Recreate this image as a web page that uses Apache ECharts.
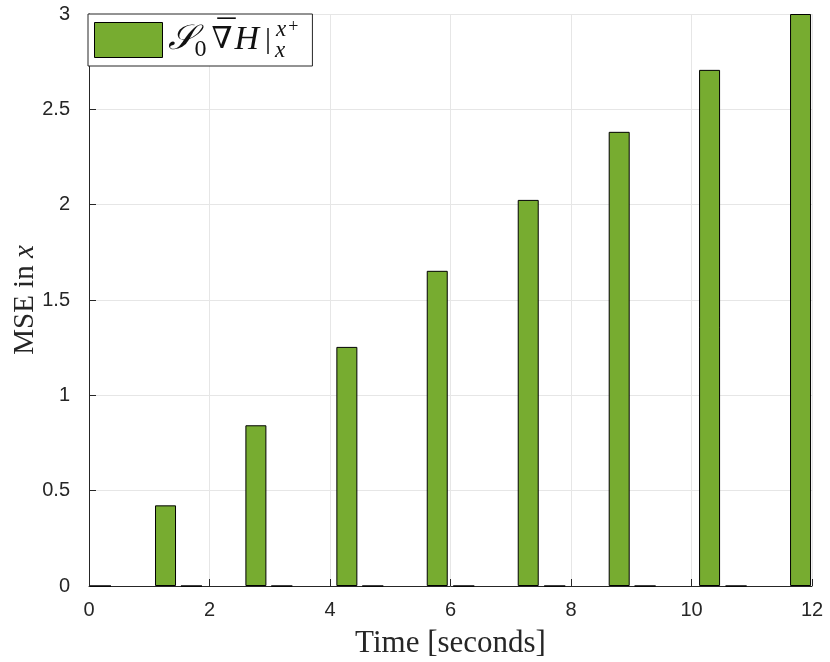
<!DOCTYPE html>
<html>
<head>
<meta charset="utf-8">
<script src="https://cdn.jsdelivr.net/npm/echarts@6/dist/echarts.min.js"></script>
<style>
  html, body { margin: 0; padding: 0; background: #fff; }
  #chart { width: 830px; height: 662px; }
</style>
</head>
<body>
<div id="chart"></div>
<script>
// Sample times (seconds) where the error is evaluated, and the MSE there
const timeCenters = [1.27, 2.77, 4.28, 5.78, 7.29, 8.80, 10.30, 11.81];
const mseValues   = [0.423, 0.843, 1.254, 1.653, 2.025, 2.382, 2.707, 3.0];
// Intermediate sample times where the error is zero
const zeroCenters = [0.19, 1.70, 3.20, 4.71, 6.22, 7.73, 9.23, 10.74];
const zeroValues  = [0, 0, 0, 0, 0, 0, 0, 0];
const xTicks = { min: 0, max: 12, interval: 2 };
const yTicks = { min: 0, max: 3, interval: 0.5 };

const barData = [];
zeroCenters.forEach((t, i) => barData.push([t, zeroValues[i]]));
timeCenters.forEach((t, i) => barData.push([t, mseValues[i]]));
barData.sort((a, b) => a[0] - b[0]);

const axisColor = '#262626';
const gridColor = '#e6e6e6';
const sans = 'Liberation Sans, Arial, Helvetica, sans-serif';
const serif = 'Liberation Serif, Times New Roman, serif';
const mathSerif = 'DejaVu Serif, Liberation Serif, serif';

const chart = echarts.init(document.getElementById('chart'), null, { renderer: 'canvas' });
chart.setOption({
  animation: false,
  backgroundColor: '#ffffff',
  grid: { left: 89, right: 18, top: 14, bottom: 76, containLabel: false, outerBoundsMode: 'none' },
  xAxis: {
    type: 'value',
    min: xTicks.min, max: xTicks.max, interval: xTicks.interval,
    name: 'Time [seconds]',
    nameLocation: 'middle',
    nameGap: 42,
    nameTextStyle: { fontFamily: serif, fontSize: 31, color: axisColor },
    axisLine: { show: true, onZero: false, lineStyle: { color: axisColor, width: 1 } },
    axisTick: { show: true, inside: true, length: 7, lineStyle: { color: axisColor } },
    axisLabel: { fontFamily: sans, fontSize: 20, color: axisColor, margin: 14 },
    splitLine: { show: true, lineStyle: { color: gridColor, width: 1 } }
  },
  yAxis: {
    type: 'value',
    min: yTicks.min, max: yTicks.max, interval: yTicks.interval,
    name: 'MSE in {i|x}',
    nameLocation: 'middle',
    nameGap: 49,
    nameMoveOverlap: false,
    nameTextStyle: {
      fontFamily: serif, fontSize: 29, color: axisColor,
      rich: { i: { fontFamily: serif, fontStyle: 'italic', fontSize: 29, color: axisColor } }
    },
    axisLine: { show: true, onZero: false, lineStyle: { color: axisColor, width: 1 } },
    axisTick: { show: true, inside: true, length: 7, lineStyle: { color: axisColor } },
    axisLabel: { fontFamily: sans, fontSize: 20, color: axisColor, margin: 19 },
    splitLine: { show: true, lineStyle: { color: gridColor, width: 1 } }
  },
  legend: {
    left: 88, top: 14,
    orient: 'horizontal',
    backgroundColor: '#ffffff',
    borderColor: axisColor,
    borderWidth: 1,
    borderRadius: 0,
    padding: [4, 12, 4, 6],
    itemWidth: 68,
    itemHeight: 35,
    itemGap: 6,
    icon: 'rect',
    itemStyle: { borderColor: '#000', borderWidth: 1 },
    data: ['S0'],
    // S_0 \bar{\nabla} H |_x^{x^+}
    formatter: () => '{S|𝒮}{z|0}{n|∇}{m|¯}{H|H}{b||}{sub|x}{sup|x}{pl|+}',
    textStyle: {
      color: '#111',
      rich: {
        S: { fontFamily: serif, fontSize: 35, fontStyle: 'italic', verticalAlign: 'middle', lineHeight: 44 },
        z: { fontFamily: serif, fontSize: 24, verticalAlign: 'bottom', lineHeight: 40, padding: [0, 5, 0, 0] },
        n: { fontFamily: mathSerif, fontSize: 30, verticalAlign: 'middle', lineHeight: 44, width: 1 },
        m: { fontFamily: serif, fontSize: 36, verticalAlign: 'top', lineHeight: 18, width: 14, padding: [0, 3, 0, 5] },
        H: { fontFamily: serif, fontSize: 34, fontStyle: 'italic', verticalAlign: 'middle', lineHeight: 44, padding: [0, 6, 0, 0] },
        b: { fontFamily: serif, fontSize: 30, verticalAlign: 'middle', lineHeight: 44, padding: [0, 4, 0, 0] },
        sub: { fontFamily: serif, fontSize: 23, fontStyle: 'italic', verticalAlign: 'bottom', lineHeight: 24, width: 1 },
        sup: { fontFamily: serif, fontSize: 23, fontStyle: 'italic', verticalAlign: 'top', lineHeight: 26 },
        pl: { fontFamily: serif, fontSize: 18, verticalAlign: 'top', lineHeight: 18, padding: [0, 2, 0, 2] }
      }
    }
  },
  series: [{
    name: 'S0',
    type: 'bar',
    barWidth: 21,
    data: barData,
    itemStyle: { color: '#77AC30', borderColor: '#000000', borderWidth: 1 }
  }]
});
</script>
</body>
</html>
